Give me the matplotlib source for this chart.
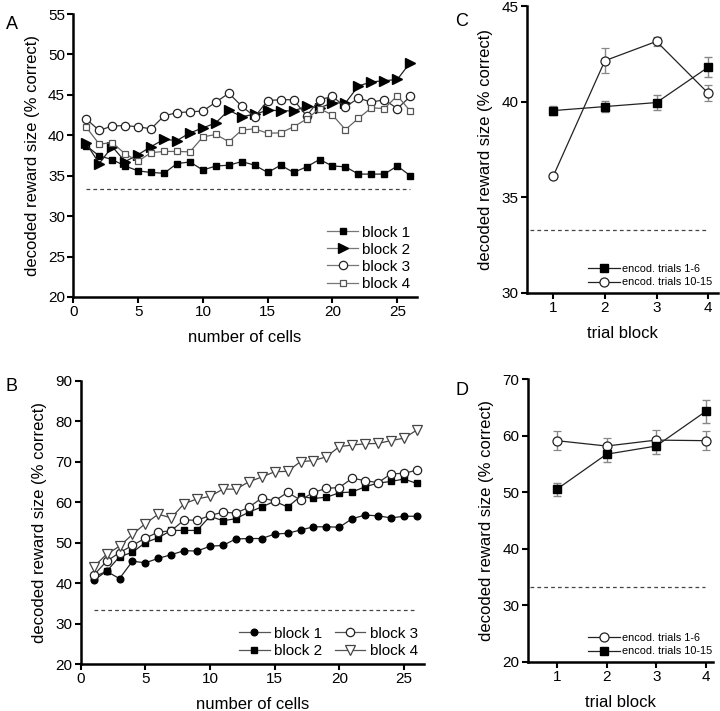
import numpy as np
import matplotlib
matplotlib.use('Agg')
import matplotlib.pyplot as plt

plt.rcParams['font.family'] = ['Liberation Sans', 'DejaVu Sans']

chance = 33.3

# panel A: decoding across number of cells, per block
cells = np.arange(1, 27)
a_block1 = [38.7, 37.45, 37.0, 36.2, 35.6, 35.4, 35.3, 36.5, 36.7, 35.7, 36.2, 36.3, 36.75,
            36.3, 35.4, 36.3, 35.4, 36.1, 37.0, 36.2, 36.1, 35.2, 35.2, 35.2, 36.2, 35.0]
a_block2 = [39.0, 36.5, 38.6, 36.75, 37.6, 38.6, 39.5, 39.35, 40.3, 40.9, 41.55, 43.1, 42.3,
            42.6, 43.1, 43.05, 43.0, 43.6, 43.4, 44.0, 44.0, 46.1, 46.6, 46.75, 46.9, 49.0]
a_block3 = [42.0, 40.6, 41.15, 41.2, 41.05, 40.8, 42.4, 42.8, 42.9, 43.0, 44.1, 45.2, 43.6,
            42.3, 44.3, 44.4, 44.4, 42.4, 44.4, 44.8, 43.5, 44.6, 44.1, 44.4, 43.3, 44.8]
a_block4 = [41.0, 38.9, 39.1, 37.7, 36.8, 37.85, 38.0, 38.0, 37.95, 39.8, 40.1, 39.2, 40.65,
            40.8, 40.25, 40.3, 41.05, 42.0, 43.3, 42.5, 40.7, 42.1, 43.4, 43.3, 44.9, 43.0]

# panel B
b_block1 = [40.7, 42.9, 41.1, 45.4, 45.0, 46.1, 47.0, 48.0, 47.9, 49.1, 49.3, 50.9, 51.0,
            51.0, 52.1, 52.3, 53.1, 53.9, 53.9, 53.8, 55.9, 56.8, 56.6, 56.1, 56.5, 56.5]
b_block2 = [41.5, 42.9, 46.5, 47.6, 50.0, 51.2, 53.0, 53.0, 53.0, 56.5, 55.4, 55.9, 57.5,
            58.8, 60.2, 58.8, 61.4, 60.9, 61.2, 62.3, 62.5, 63.8, 64.7, 65.1, 65.7, 64.6]
b_block3 = [41.9, 45.4, 47.5, 49.3, 51.1, 52.6, 52.9, 55.6, 55.5, 56.7, 57.5, 57.3, 58.7,
            61.0, 60.3, 62.4, 60.5, 62.4, 63.4, 63.6, 65.9, 65.3, 64.8, 67.0, 67.1, 67.9]
b_block4 = [44.0, 47.1, 49.1, 52.0, 54.7, 57.0, 56.1, 59.6, 60.8, 61.4, 63.2, 63.2, 65.0,
            66.2, 67.5, 67.6, 70.0, 70.25, 71.2, 73.7, 74.1, 74.4, 74.5, 75.2, 75.8, 77.8]

# panels C and D: trial blocks
trial_block = [1, 2, 3, 4]
c_early = [39.53, 39.74, 39.95, 41.8]
c_early_err = [0.23, 0.31, 0.39, 0.52]
c_late = [36.1, 42.14, 43.15, 40.44]
c_late_err = [0.05, 0.65, 0.24, 0.43]
d_early = [59.1, 58.15, 59.2, 59.1]
d_early_err = [1.7, 1.5, 1.7, 1.7]
d_late = [50.5, 56.7, 58.15, 64.3]
d_late_err = [1.1, 1.3, 1.4, 2.0]

ylab = 'decoded reward size (% correct)'
dash = (0, (3, 2.5))


def style_axes(ax):
    for s in ['top', 'right']:
        ax.spines[s].set_visible(False)
    for s in ['left', 'bottom']:
        ax.spines[s].set_linewidth(1.8)
    ax.tick_params(direction='out', length=4, width=1.5, labelsize=11, pad=2)


fig = plt.figure(figsize=(7.2, 7.11), dpi=100)

# ---- A
ax = fig.add_axes([0.1018, 0.5823, 0.477, 0.398])
style_axes(ax)
ax.plot(cells, a_block1, color='#222222', lw=0.9, marker='s', ms=4.3, mfc='black', mec='black', label='block 1')
ax.plot(cells, a_block2, color='#222222', lw=0.9, marker='>', ms=6.5, mfc='black', mec='black', label='block 2')
ax.plot(cells, a_block3, color='#333333', lw=0.9, marker='o', ms=6, mfc='white', mec='#222222', mew=0.9, label='block 3')
ax.plot(cells, a_block4, color='#666666', lw=0.9, marker='s', ms=4.5, mfc='white', mec='#555555', mew=0.9, label='block 4')
ax.plot([1, 26], [chance, chance], color='#444444', lw=0.9, ls=dash)
ax.set_xlim(0, 26.5)
ax.set_ylim(20, 55)
ax.set_xticks([0, 5, 10, 15, 20, 25])
ax.set_yticks(np.arange(20, 56, 5))
ax.set_xlabel('number of cells', fontsize=12, labelpad=8)
ax.set_ylabel(ylab, fontsize=12, labelpad=6)
leg = ax.legend(loc='lower right', bbox_to_anchor=(1.0, 0.0), frameon=False, fontsize=11,
                handlelength=2.0, handletextpad=0.3, labelspacing=0.2, borderaxespad=0.0)
for h in leg.get_lines():
    h.set_color('#777777')
fig.text(0.008, 0.978, 'A', fontsize=13, va='top')

# ---- B
ax = fig.add_axes([0.1121, 0.0661, 0.4768, 0.3985])
style_axes(ax)
ax.plot(cells, b_block1, color='#222222', lw=0.9, marker='o', ms=4.8, mfc='black', mec='black', label='block 1')
ax.plot(cells, b_block2, color='#222222', lw=0.9, marker='s', ms=4.5, mfc='black', mec='black', label='block 2')
ax.plot(cells, b_block3, color='#333333', lw=0.9, marker='o', ms=6, mfc='white', mec='#222222', mew=0.9, label='block 3')
ax.plot(cells, b_block4, color='#444444', lw=0.9, marker='v', ms=6.5, mfc='white', mec='#444444', mew=0.9, label='block 4')
ax.plot([1, 26], [chance, chance], color='#444444', lw=0.9, ls=dash)
ax.set_xlim(0, 26.55)
ax.set_ylim(20, 90)
ax.set_xticks([0, 5, 10, 15, 20, 25])
ax.set_yticks(np.arange(20, 91, 10))
ax.set_xlabel('number of cells', fontsize=12, labelpad=8)
ax.set_ylabel(ylab, fontsize=12, labelpad=6)
leg = ax.legend(loc='lower right', bbox_to_anchor=(1.0, 0.0), frameon=False, fontsize=11, ncol=2,
                handlelength=2.0, handletextpad=0.3, labelspacing=0.2, columnspacing=0.8, borderaxespad=0.0)
for h in leg.get_lines():
    h.set_color('#555555')
fig.text(0.008, 0.468, 'B', fontsize=13, va='top')

# ---- C
ax = fig.add_axes([0.7315, 0.5883, 0.2657, 0.4032])
style_axes(ax)
ax.errorbar(trial_block, c_early, yerr=c_early_err, color='#222222', lw=0.9, marker='s', ms=5.5,
            mfc='black', mec='black', ecolor='#888888', elinewidth=1, capsize=3, label='encod. trials 1-6')
ax.errorbar(trial_block, c_late, yerr=c_late_err, color='#222222', lw=0.9, marker='o', ms=6.5,
            mfc='white', mec='#222222', mew=0.9, ecolor='#888888', elinewidth=1, capsize=3,
            label='encod. trials 10-15')
ax.plot([0.55, 4.0], [chance, chance], color='#444444', lw=0.9, ls=dash)
ax.set_xlim(0.486, 4.19)
ax.set_ylim(30, 45)
ax.set_xticks(trial_block)
ax.set_yticks([30, 35, 40, 45])
ax.set_xlabel('trial block', fontsize=12, labelpad=8)
ax.set_ylabel(ylab, fontsize=12, labelpad=6)
h, l = ax.get_legend_handles_labels()
h = [x[0] for x in h]
ax.legend(h, l, loc='lower right', bbox_to_anchor=(1.0, 0.0), frameon=False, fontsize=7.8,
          handlelength=3.0, handletextpad=0.2, labelspacing=0.35, borderaxespad=0.1)
fig.text(0.632, 0.982, 'C', fontsize=13, va='top')

# ---- D
ax = fig.add_axes([0.733, 0.0693, 0.2578, 0.3976])
style_axes(ax)
ax.errorbar(trial_block, d_early, yerr=d_early_err, color='#222222', lw=0.9, marker='o', ms=6.5,
            mfc='white', mec='#222222', mew=0.9, ecolor='#888888', elinewidth=1, capsize=3,
            label='encod. trials 1-6')
ax.errorbar(trial_block, d_late, yerr=d_late_err, color='#222222', lw=0.9, marker='s', ms=5.5,
            mfc='black', mec='black', ecolor='#888888', elinewidth=1, capsize=3, label='encod. trials 10-15')
ax.plot([0.47, 3.98], [chance, chance], color='#444444', lw=0.9, ls=dash)
ax.set_xlim(0.416, 4.15)
ax.set_ylim(20, 70)
ax.set_xticks(trial_block)
ax.set_yticks(np.arange(20, 71, 10))
ax.set_xlabel('trial block', fontsize=12, labelpad=8)
ax.set_ylabel(ylab, fontsize=12, labelpad=6)
h, l = ax.get_legend_handles_labels()
h = [x[0] for x in h]
ax.legend(h, l, loc='lower right', bbox_to_anchor=(1.025, 0.0), frameon=False, fontsize=7.8,
          handlelength=3.0, handletextpad=0.2, labelspacing=0.35, borderaxespad=0.1)
fig.text(0.632, 0.463, 'D', fontsize=13, va='top')

fig.savefig('out.png', dpi=100)
